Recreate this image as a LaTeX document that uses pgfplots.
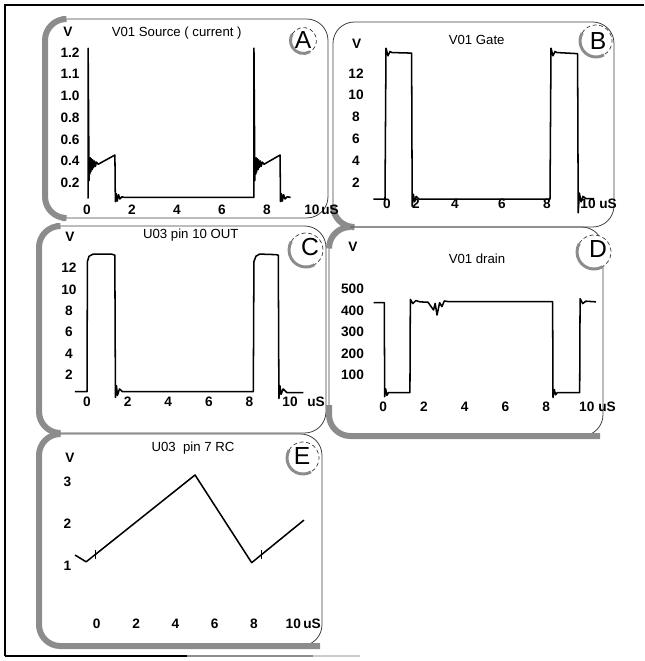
\documentclass[border=0pt]{standalone}
\usepackage{fontspec}
\setmainfont{Liberation Sans}
\usepackage{pgfplots}
\pgfplotsset{compat=1.18}
\pgfplotsset{scope/.style={
  scale only axis, clip=false, anchor=south west,
  axis line style={draw=none}, tick style={draw=none}, major tick length=0pt,
  ticklabel style={font=\fontsize{10.25}{12}\selectfont\bfseries, anchor=center, inner sep=0pt},
}}
\tikzset{trace/.style={black, line width=1.15pt, line join=round},
  frame/.style={black!75, line width=0.6pt, rounded corners=16pt},
  shad/.style={black!45, line width=4.5pt, rounded corners=16pt},
  ttl/.style={font=\fontsize{9.9}{11}\selectfont, inner sep=0pt},
  lab/.style={font=\fontsize{10.25}{12}\selectfont\bfseries, inner sep=0pt},
  letter/.style={font=\fontsize{18.5}{20}\selectfont, inner sep=0pt}}
\begin{document}
\begin{tikzpicture}
\begin{scope}[x=0.75pt,y=-0.75pt]
\useasboundingbox (0,0) rectangle (644,661);
% outer frame
\draw[black, line width=1.5pt] (5,656) -- (5,5) -- (644,5);
\draw[black, line width=1.5pt] (5,656) -- (187,656);
\draw[black!45, line width=1.2pt] (187,656) -- (313,656);
\draw[black!20, line width=1pt] (313,656) -- (360,656);
% frames
\draw[frame] (46,19) rectangle (328,218);
\draw[shad] (62,19) -- (45,19) -- (45,218) -- (62,218);
\draw[frame] (333,22) rectangle (614,227);
\draw[shad] (333,205) -- (333,227) -- (352,227);
\draw[frame] (39,226) rectangle (326,433);
\draw[shad] (56,226) -- (39,226) -- (39,433) -- (56,433);
\draw[frame] (329,227) rectangle (603,436);
\draw[shad] (329,246) -- (329,227) -- (348,227);
\draw[shad] (329,405) -- (329,436) -- (600,436);
\draw[frame] (39,434) rectangle (322,646);
\draw[shad] (56,434) -- (39,434) -- (39,646) -- (320,646);
% circles + letters
\foreach \cx/\cy/\r/\lx/\ly/\L in {303.5/40.5/13/303/40.5/A, 596/41/16/598/41/B, 306/250/17/310/247/C, 594/252/17/598/249/D, 303/458/16/302/456/E}{
  \fill[white] (\cx,\cy) circle (\r);
  \draw[black!45, line width=2.2pt] (\cx,\cy) ++(60:\r) arc (60:210:\r);
  \draw[black!80, line width=0.5pt, dash pattern=on 3pt off 2pt] (\cx,\cy) ++(210:\r) arc (210:420:\r);
  \node[letter] at (\lx,\ly) {\L};
}
% titles and units
\node[ttl] at (176.7,33) {V01 Source ( current )};
\node[lab] at (68,32) {V};
\node[lab, anchor=west] at (321,210) {uS};
\node[ttl] at (476.7,40) {V01 Gate};
\node[lab] at (356.7,43.3) {V};
\node[lab, anchor=west] at (599,203.3) {uS};
\node[ttl] at (190.8,235) {U03 pin 10 OUT};
\node[lab] at (70,237) {V};
\node[lab, anchor=west] at (307,401.7) {uS};
\node[ttl] at (477,259) {V01 drain};
\node[lab] at (353,247) {V};
\node[lab, anchor=west] at (598,406.7) {uS};
\node[ttl] at (193,448) {U03\ \ pin 7 RC};
\node[lab] at (70,458) {V};
\node[lab, anchor=west] at (303,624) {uS};
\end{scope}

% A
\begin{axis}[scope, at={(52.5pt,-157.5pt)}, width=181.5pt, height=118.1pt,
  xmin=-0.756, xmax=10, ymin=-0.0516, ymax=1.4,
  xtick={0,2,4,6,8,10}, xticklabels={0,2,4,6,8,10},
  ytick={0.2,0.4,0.6,0.8,1.0,1.2,1.4}, yticklabels={0.2,0.4,0.6,0.8,1.0,1.1,1.2}]
\addplot[trace] coordinates {(0.02,0.06) (0.05,0.06) (0.05,1.44) (0.09,0.22) (0.11,0.40) (0.13,0.28) (0.15,0.43) (0.17,0.30) (0.20,0.42) (0.23,0.32) (0.26,0.41) (0.29,0.34) (0.33,0.40) (0.37,0.35) (0.42,0.39) (0.50,0.37) (0.58,0.38) (1.24,0.455) (1.26,0.025) (1.30,0.10) (1.34,0.03) (1.40,0.09) (1.46,0.05) (1.55,0.07) (1.65,0.065) (7.42,0.065) (7.42,1.44) (7.46,0.22) (7.48,0.40) (7.50,0.28) (7.52,0.43) (7.54,0.30) (7.57,0.42) (7.60,0.32) (7.63,0.41) (7.66,0.34) (7.70,0.40) (7.74,0.35) (7.79,0.39) (7.87,0.37) (7.95,0.38) (8.58,0.455) (8.60,0.025) (8.64,0.10) (8.68,0.03) (8.74,0.09) (8.80,0.05) (8.90,0.07) (9.05,0.065)};
\end{axis}

% B
\begin{axis}[scope, at={(267pt,-152.5pt)}, width=174pt, height=113.9pt,
  xmin=-1.55, xmax=10.05, ymin=0.064, ymax=14,
  xtick={0,1.45,3.4,5.75,8,10.05}, xticklabels={0,2,4,6,8,10},
  ytick={2,4,6,8,10,12}, yticklabels={2,4,6,8,10,12}]
\addplot[trace] coordinates {(-0.68,0.45) (-0.1,0.45) (-0.05,14.3) (0.05,13.6) (0.15,14.0) (0.25,13.9) (1.23,13.85) (1.26,-0.2) (1.32,0.9) (1.38,0.2) (1.46,0.7) (1.6,0.45) (8.15,0.45) (8.2,14.3) (8.3,13.6) (8.4,14.0) (8.5,13.9) (9.53,13.8) (9.56,-0.8) (9.62,1.0) (9.7,0.2) (9.8,0.7) (9.95,0.5) (10.35,0.5)};
\end{axis}

% C
\begin{axis}[scope, at={(51.75pt,-301.3pt)}, width=165.8pt, height=100.3pt,
  xmin=-0.887, xmax=10, ymin=-0.495, ymax=12,
  xtick={0,2,4,6,8,10}, xticklabels={0,2,4,6,8,10},
  ytick={2,4,6,8,10,12}, yticklabels={2,4,6,8,10,12}]
\addplot[trace] coordinates {(-0.6,0.44) (0.0,0.44) (0.02,12.6) (0.1,13.1) (0.3,13.3) (1.2,13.3) (1.37,13.2) (1.4,-0.1) (1.45,1.0) (1.5,0.1) (1.6,0.7) (1.75,0.44) (8.19,0.44) (8.22,12.6) (8.32,13.1) (8.5,13.3) (9.3,13.25) (9.42,13.2) (9.45,-0.2) (9.5,1.0) (9.56,0.2) (9.66,0.7) (9.85,0.35) (10.66,0.35)};
\end{axis}

% D
\begin{axis}[scope, at={(264.4pt,-305pt)}, width=175.7pt, height=88.3pt,
  xmin=-1.51, xmax=10, ymin=-47.4, ymax=500,
  xtick={0,2,4,6,8,10}, xticklabels={0,2,4,6,8,10},
  ytick={100,200,300,400,500}, yticklabels={100,200,300,400,500}]
\addplot[trace] coordinates {(-0.47,436) (0.05,436) (0.07,-1) (0.12,35) (0.18,5) (0.25,18) (1.31,18) (1.33,452) (1.45,432) (1.6,446) (1.8,440) (2.2,438) (2.47,402) (2.55,433) (2.64,379) (2.77,436) (2.88,418) (3.0,444) (3.2,441) (8.32,441) (8.34,-5) (8.4,32) (8.47,8) (8.55,18) (9.65,18) (9.67,455) (9.8,432) (9.95,443) (10.45,440)};
\end{axis}

% E
\begin{axis}[scope, at={(50.6pt,-468pt)}, width=169.4pt, height=106.7pt,
  xmin=-1.49, xmax=10, ymin=-0.375, ymax=3,
  xtick={0,2,4,6,8,10}, xticklabels={0,2,4,6,8,10},
  ytick={1,2,3}, yticklabels={1,2,3}]
\addplot[trace] coordinates {(-1.10,1.26) (-0.54,1.10) (5.0,3.16) (7.88,1.08) (10.54,2.09)};
\addplot[black, line width=0.8pt] coordinates {(-0.05,1.17) (-0.05,1.39)};
\addplot[black, line width=0.8pt] coordinates {(8.39,1.16) (8.39,1.38)};
\end{axis}
\end{tikzpicture}
\end{document}
